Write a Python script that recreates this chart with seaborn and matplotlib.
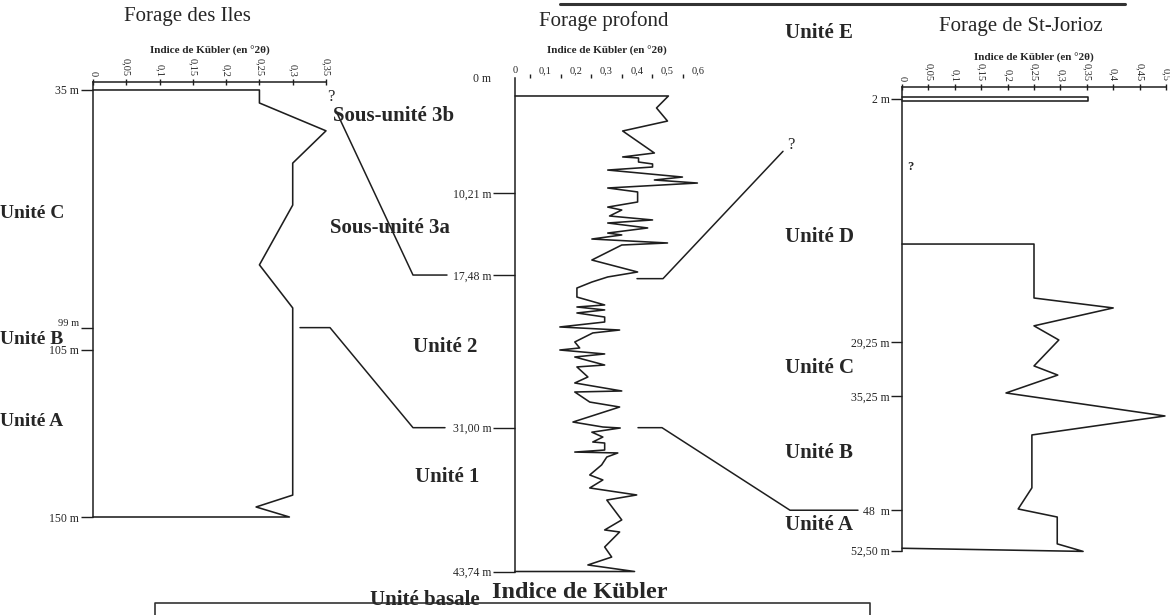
import matplotlib
matplotlib.use("Agg")
import matplotlib.pyplot as plt
from matplotlib.lines import Line2D
from matplotlib.ticker import FixedLocator
import pandas as pd
import seaborn as sns

# ---------------- data ----------------
# Forage des Iles : Kübler index vs depth (m)
iles_depth = [35, 35, 38.5, 46, 54.7, 66, 82.1, 93.7, 144.1, 147.3, 150, 150]
iles_kubler = [0, 0.25, 0.25, 0.35, 0.30, 0.30, 0.25, 0.30, 0.30, 0.245, 0.295, 0]
iles_ticks = [35, 99, 105, 150]
iles_tick_labels = ["35 m", "99 m", "105 m", "150 m"]
iles_scale = [0, 0.05, 0.1, 0.15, 0.2, 0.25, 0.3, 0.35]

# Forage profond
profond_depth = [1.62, 1.62, 2.68, 3.84, 4.72, 6.67, 7.02, 7.11, 7.47, 7.64, 7.91,
                 8.18, 8.80, 9.06, 9.33, 9.77, 10.12, 11.01, 11.46, 11.72, 12.25,
                 12.60, 12.87, 13.31, 13.76, 13.93, 14.29, 14.64, 14.82, 16.15,
                 17.21, 17.65, 18.10, 18.63, 19.43, 20.13, 20.31, 20.57, 20.84,
                 21.20, 21.64, 22.08, 22.35, 22.61, 23.41, 23.94, 24.12, 24.47,
                 24.74, 25.45, 25.62, 26.51, 27.04, 27.75, 27.84, 28.73, 29.17,
                 30.50, 30.94, 31.03, 31.40, 31.83, 32.27, 32.36, 32.98, 33.16,
                 33.24, 33.60, 34.30, 35.19, 35.63, 36.34, 36.96, 37.41, 39.17,
                 40.06, 40.24, 41.57, 42.46, 43.16, 43.74, 43.74]
profond_kubler = [0, 0.503, 0.464, 0.50, 0.353, 0.457, 0.353, 0.405, 0.405, 0.451, 0.451,
                  0.304, 0.549, 0.457, 0.598, 0.304, 0.402, 0.402, 0.304, 0.350, 0.31,
                  0.451, 0.304, 0.435, 0.304, 0.350, 0.252, 0.50, 0.350, 0.252,
                  0.402, 0.304, 0.252, 0.203, 0.203, 0.294, 0.203, 0.294, 0.203,
                  0.294, 0.294, 0.147, 0.343, 0.255, 0.196, 0.212, 0.147, 0.294,
                  0.196, 0.294, 0.203, 0.239, 0.196, 0.35, 0.196, 0.245, 0.343,
                  0.19, 0.288, 0.345, 0.252, 0.288, 0.255, 0.294, 0.294, 0.196,
                  0.337, 0.301, 0.284, 0.245, 0.288, 0.245, 0.399, 0.301, 0.35,
                  0.294, 0.343, 0.294, 0.317, 0.239, 0.392, 0]
profond_ticks = [0, 10.21, 17.48, 31.00, 43.74]
profond_tick_labels = ["0 m", "10,21 m", "17,48 m", "31,00 m", "43,74 m"]
profond_scale = [0, 0.1, 0.2, 0.3, 0.4, 0.5, 0.6]

# Forage de St-Jorioz (unit E sample, then units D to A)
jorioz_e_depth = [1.83, 1.83, 2.28, 2.28]
jorioz_e_kubler = [0, 0.352, 0.352, 0]
jorioz_depth = [18.26, 18.26, 24.29, 25.4, 27.4, 28.98, 31.88, 32.9, 34.9, 37.47,
                39.59, 45.5, 47.86, 48.76, 51.76, 52.6, 52.25]
jorioz_kubler = [0, 0.25, 0.25, 0.40, 0.25, 0.297, 0.25, 0.295, 0.197, 0.498,
                 0.246, 0.246, 0.22, 0.294, 0.294, 0.343, 0]
jorioz_ticks = [2, 29.25, 35.25, 48, 52.5]
jorioz_tick_labels = ["2 m", "29,25 m", "35,25 m", "48  m", "52,50 m"]
jorioz_scale = [0, 0.05, 0.1, 0.15, 0.2, 0.25, 0.3, 0.35, 0.4, 0.45, 0.5]

# ---------------- style ----------------
sns.set_theme(style="white")
plt.rcParams["font.family"] = ["Liberation Serif", "DejaVu Serif"]
INK = "#1e1e1e"
TXT = "#262626"

W, H = 1170, 615
fig = plt.figure(figsize=(W / 100, H / 100), dpi=100)
fig.patch.set_facecolor("white")


def px_axes(x0, x1, y0, y1):
    """Axes placed by pixel box (origin top-left)."""
    return fig.add_axes([x0 / W, 1 - y1 / H, (x1 - x0) / W, (y1 - y0) / H])


def comma(v):
    return ("%g" % v).replace(".", ",")


def draw_profile(ax, kub, dep, unit=0):
    df = pd.DataFrame({"kubler": kub, "depth": dep, "unit": unit})
    sns.lineplot(data=df, x="kubler", y="depth", units="unit", estimator=None,
                 sort=False, color=INK, lw=1.15, ax=ax, legend=False)


def style_axis(ax, scale, rotate, depth_ticks, depth_labels, top_spine=True,
               xlabel_pad=3):
    ax.set_facecolor("none")
    for side in ("right", "bottom"):
        ax.spines[side].set_visible(False)
    ax.spines["top"].set_visible(top_spine)
    for side in ("left", "top"):
        ax.spines[side].set_color(INK)
        ax.spines[side].set_linewidth(1.1)
    ax.xaxis.tick_top()
    ax.xaxis.set_label_position("top")
    ax.set_xticks(scale)
    ax.set_xticklabels([comma(v) for v in scale], rotation=270 if rotate else 0,
                       fontsize=7.5, color=TXT)
    ax.set_xlabel("Indice de Kübler (en °2θ)", fontsize=8, fontweight="bold",
                  color=TXT, labelpad=xlabel_pad)
    ax.set_yticks(depth_ticks)
    ax.set_yticklabels(depth_labels, fontsize=8.5, color=TXT)
    ax.set_ylabel("")
    ax.tick_params(axis="y", direction="out", length=9, width=1, color=INK, pad=1,
                   left=True)
    ax.grid(False)
    for ln in ax.lines:
        ln.set_clip_on(False)


# ---- Forage des Iles ----
ax1 = px_axes(93, 326, 82, 517)
draw_profile(ax1, iles_kubler, iles_depth)
ax1.set_xlim(0, 0.35)
ax1.set_ylim(150, 32.85)
style_axis(ax1, iles_scale, True, iles_ticks, iles_tick_labels, xlabel_pad=3)
ax1.tick_params(axis="x", direction="inout", length=4, width=1, color=INK, pad=2,
                top=True)
# the 99 m label is set smaller and nudged up, above the unit name
lab99 = ax1.get_yticklabels()[1]
lab99.set_fontsize(7.5)
lab99.set_va("bottom")

# ---- Forage profond ----
ax2 = px_axes(515, 698, 77.7, 571.5)
draw_profile(ax2, profond_kubler, profond_depth)
ax2.set_xlim(0, 0.6)
ax2.set_ylim(43.74, 0)
style_axis(ax2, profond_scale, False, profond_ticks, profond_tick_labels,
           top_spine=False, xlabel_pad=9)
ax2.xaxis.set_minor_locator(FixedLocator([0.05, 0.15, 0.25, 0.35, 0.45, 0.55]))
ax2.tick_params(axis="x", which="major", length=0, pad=2, top=True)
ax2.tick_params(axis="x", which="minor", direction="out", length=3, width=1,
                color=INK, top=True, bottom=False)
ax2.tick_params(axis="y", length=16)
ax2.yaxis.get_major_ticks()[0].tick1line.set_visible(False)

# ---- Forage de St-Jorioz ----
ax3 = px_axes(902, 1166, 87, 550.5)
draw_profile(ax3, jorioz_e_kubler, jorioz_e_depth, unit=0)
draw_profile(ax3, jorioz_kubler, jorioz_depth, unit=1)
ax3.set_xlim(0, 0.5)
ax3.set_ylim(52.5, 0.715)
style_axis(ax3, jorioz_scale, True, jorioz_ticks, jorioz_tick_labels, xlabel_pad=2)
ax3.tick_params(axis="x", direction="inout", length=4, width=1, color=INK, pad=2,
                top=True)
ax3.tick_params(axis="y", length=8)

# ---------------- correlation links ----------------
fig.canvas.draw()


def fy(ax, depth):
    return ax.transData.transform((0, depth))[1] / H


links = [
    [(337, ax1, 41.2), (413, ax2, 17.48), (447, ax2, 17.48)],
    [(300, ax1, 99), (330, ax1, 99), (413, ax2, 31.0), (445, ax2, 31.0)],
    [(637, ax2, 17.8), (663, ax2, 17.8), (783, ax3, 7.9)],
    [(638, ax2, 31.0), (662, ax2, 31.0), (790, ax3, 48.0), (858, ax3, 48.0)],
]
for path in links:
    xs = [p[0] / W for p in path]
    ys = [fy(p[1], p[2]) for p in path]
    fig.add_artist(Line2D(xs, ys, transform=fig.transFigure, color=INK, lw=1.1))


def ftext(x, y, s, **kw):
    fig.text(x / W, 1 - y / H, s, color=TXT, **kw)


# titles
ftext(187, 17, "Forage des Iles", fontsize=15, ha="center", va="center")
ftext(604, 21, "Forage profond", fontsize=15, ha="center", va="center")
ftext(1021, 26, "Forage de St-Jorioz", fontsize=15, ha="center", va="center")

# units
bold = dict(fontsize=15, fontweight="bold", va="center")
left_bold = dict(bold, fontsize=14)
ftext(0, 214, "Unité C", ha="left", **left_bold)
ftext(0, 339, "Unité B", ha="left", **left_bold)
ftext(0, 422, "Unité A", ha="left", **left_bold)
ftext(333, 116, "Sous-unité 3b", ha="left", **bold)
ftext(330, 228, "Sous-unité 3a", ha="left", **bold)
ftext(413, 347, "Unité 2", ha="left", **bold)
ftext(415, 477, "Unité 1", ha="left", **bold)
ftext(370, 600, "Unité basale", ha="left", **bold)
ftext(785, 33, "Unité E", ha="left", **bold)
ftext(785, 237, "Unité D", ha="left", **bold)
ftext(785, 368, "Unité C", ha="left", **bold)
ftext(785, 453, "Unité B", ha="left", **bold)
ftext(785, 525, "Unité A", ha="left", **bold)
ftext(580, 592, "Indice de Kübler", fontsize=17.5, fontweight="bold",
      ha="center", va="center")

# uncertain correlations
ftext(331, 97, "?", fontsize=12, ha="center", va="center")
ftext(791, 145, "?", fontsize=12, ha="center", va="center")
ftext(910, 167, "?", fontsize=9, fontweight="bold", ha="center", va="center")

# page rules
fig.add_artist(Line2D([560 / W, 1125 / W], [1 - 4 / H, 1 - 4 / H],
                      transform=fig.transFigure, color="#333333", lw=2.2))
fig.add_artist(Line2D([155 / W, 155 / W, 870 / W, 870 / W],
                      [0, 1 - 603 / H, 1 - 603 / H, 0],
                      transform=fig.transFigure, color="#333333", lw=1.2))

fig.savefig("out.png", dpi=100, facecolor="white")
